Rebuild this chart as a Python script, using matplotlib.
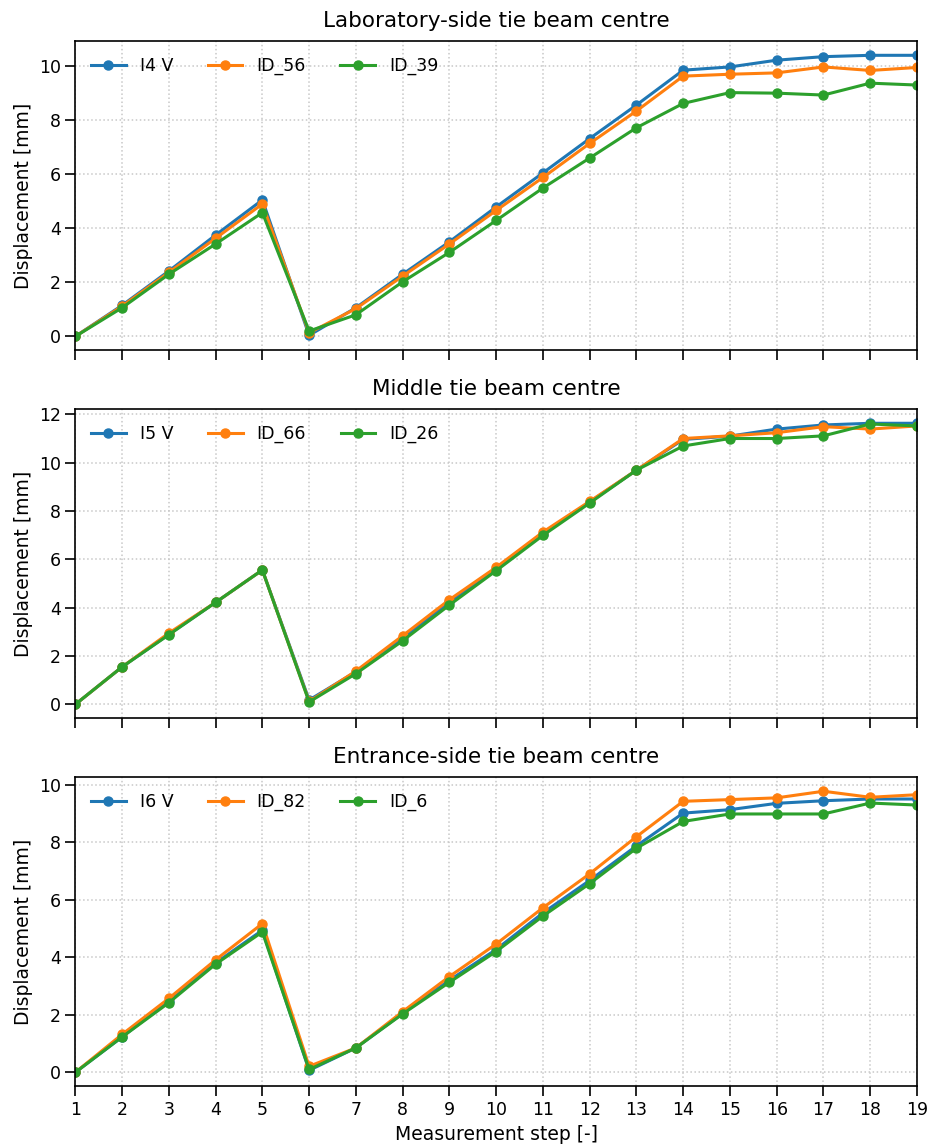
import matplotlib
matplotlib.use('Agg')
import matplotlib.pyplot as plt

# measurement steps
steps = list(range(1, 20))

# laboratory-side tie beam centre
lab_i4v = [0, 1.15, 2.42, 3.75, 5.05, 0.04, 1.06, 2.30, 3.50, 4.79, 6.05, 7.32, 8.56, 9.85, 9.97, 10.22, 10.35, 10.40, 10.40]
lab_id56 = [0, 1.12, 2.37, 3.63, 4.90, 0.13, 1.03, 2.23, 3.42, 4.66, 5.88, 7.14, 8.34, 9.63, 9.70, 9.75, 9.97, 9.84, 9.95]
lab_id39 = [0, 1.06, 2.30, 3.42, 4.58, 0.20, 0.80, 2.02, 3.11, 4.29, 5.49, 6.60, 7.72, 8.62, 9.02, 9.00, 8.93, 9.37, 9.30]

# middle tie beam centre
mid_i5v = [0, 1.55, 2.90, 4.22, 5.56, 0.18, 1.35, 2.74, 4.22, 5.60, 7.05, 8.37, 9.69, 10.96, 11.10, 11.39, 11.56, 11.63, 11.63]
mid_id66 = [0, 1.55, 2.95, 4.22, 5.56, 0.12, 1.38, 2.84, 4.33, 5.67, 7.13, 8.40, 9.69, 11.00, 11.11, 11.24, 11.49, 11.39, 11.52]
mid_id26 = [0, 1.55, 2.88, 4.22, 5.56, 0.10, 1.27, 2.63, 4.11, 5.53, 6.99, 8.33, 9.69, 10.69, 11.00, 11.00, 11.11, 11.60, 11.52]

# entrance-side tie beam centre
ent_i6v = [0, 1.23, 2.48, 3.80, 4.94, 0.07, 0.85, 2.05, 3.20, 4.27, 5.54, 6.67, 7.87, 9.01, 9.13, 9.35, 9.44, 9.50, 9.50]
ent_id82 = [0, 1.32, 2.57, 3.91, 5.17, 0.21, 0.85, 2.11, 3.33, 4.46, 5.72, 6.90, 8.19, 9.42, 9.48, 9.54, 9.77, 9.56, 9.65]
ent_id6 = [0, 1.23, 2.42, 3.76, 4.88, 0.10, 0.85, 2.03, 3.13, 4.20, 5.43, 6.56, 7.79, 8.72, 8.98, 8.98, 8.98, 9.36, 9.29]

panels = [
    ('Laboratory-side tie beam centre', [('I4 V', lab_i4v), ('ID_56', lab_id56), ('ID_39', lab_id39)]),
    ('Middle tie beam centre', [('I5 V', mid_i5v), ('ID_66', mid_id66), ('ID_26', mid_id26)]),
    ('Entrance-side tie beam centre', [('I6 V', ent_i6v), ('ID_82', ent_id82), ('ID_6', ent_id6)]),
]
colors = ['#1f77b4', '#ff7f0e', '#2ca02c']

fig, axes = plt.subplots(3, 1, figsize=(9.3, 11.46), dpi=100, sharex=True)
fig.subplots_adjust(left=0.081, right=0.986, top=0.964, bottom=0.052, hspace=0.19)

for ax, (title, series) in zip(axes, panels):
    for (label, vals), c in zip(series, colors):
        ax.plot(steps, vals, marker='o', markersize=6.5, linewidth=2.2, color=c, label=label)
    ax.set_title(title, fontsize=15.5, pad=10)
    ax.set_ylabel('Displacement [mm]', fontsize=13.5)
    ax.grid(True, linestyle=':', linewidth=1.1, color='#c8c8c8')
    ax.legend(loc='upper left', ncol=3, frameon=False, fontsize=12.5, columnspacing=2.0)
    ax.tick_params(labelsize=12.5, length=7, width=1.2)
    for sp in ax.spines.values():
        sp.set_linewidth(1.2)

axes[-1].set_xlim(1, 19)
axes[-1].set_xticks(steps)
axes[-1].set_xlabel('Measurement step [-]', fontsize=13.5)

plt.savefig('out.png', dpi=100)
